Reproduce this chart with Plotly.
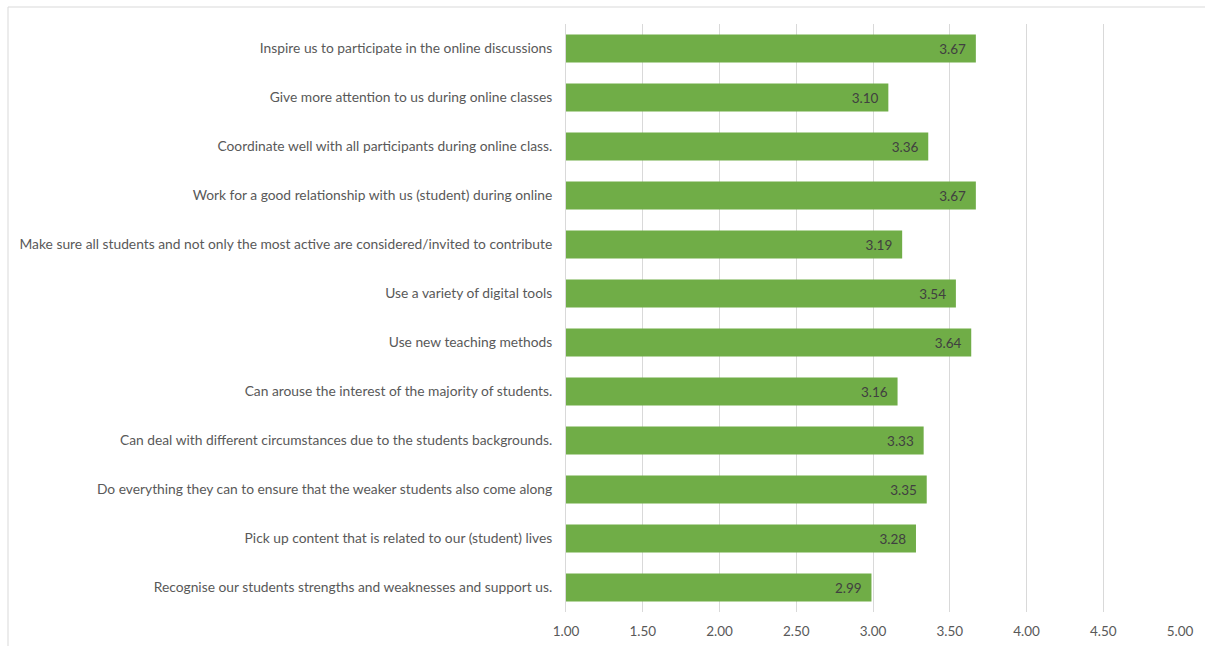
import plotly.graph_objects as go

categories = [
    "Inspire us to participate in the online discussions",
    "Give more attention to us during online classes",
    "Coordinate well with all participants during online class.",
    "Work for a good relationship with us (student) during online",
    "Make sure all students and not only the most active are considered/invited to contribute",
    "Use a variety of digital tools",
    "Use new teaching methods",
    "Can arouse the interest of the majority of students.",
    "Can deal with different circumstances due to the students backgrounds.",
    "Do everything they can to ensure that the weaker students also come along",
    "Pick up content that is related to our (student) lives",
    "Recognise our students strengths and weaknesses and support us.",
]
values = [3.67, 3.10, 3.36, 3.67, 3.19, 3.54, 3.64, 3.16, 3.33, 3.35, 3.28, 2.99]
tick_vals = [1.0, 1.5, 2.0, 2.5, 3.0, 3.5, 4.0, 4.5, 5.0]
tick_text = ["1.00", "1.50", "2.00", "2.50", "3.00", "3.50", "4.00", "4.50", "5.00"]

FONT = "Lato"

fig = go.Figure(
    go.Bar(
        x=values,
        y=categories,
        orientation="h",
        marker=dict(color="#70AD47", line=dict(width=0)),
        width=0.57,
        text=[f"{v:.2f}\u00a0\u00a0" for v in values],
        textposition="inside",
        insidetextanchor="end",
        textfont=dict(family=FONT, size=13.5, color="#404040"),
        constraintext="none",
        cliponaxis=True,
        hoverinfo="x+y",
    )
)

fig.update_layout(
    width=1205,
    height=646,
    margin=dict(l=566, r=25, t=24, b=34),
    paper_bgcolor="white",
    plot_bgcolor="white",
    showlegend=False,
    font=dict(family=FONT, size=13, color="#595959"),
    xaxis=dict(
        range=[1, 5],
        tickvals=tick_vals,
        ticktext=tick_text,
        showgrid=True,
        gridcolor="#D9D9D9",
        gridwidth=1,
        zeroline=False,
        showline=False,
        ticks="",
        automargin=False,
        ticklabelstandoff=9,
        tickfont=dict(family=FONT, size=13.5, color="#595959"),
    ),
    yaxis=dict(
        autorange="reversed",
        showgrid=False,
        zeroline=False,
        showline=True,
        linecolor="#D9D9D9",
        linewidth=1,
        ticks="",
        automargin=False,
        ticklabelstandoff=10,
        tickfont=dict(family=FONT, size=13.8, color="#595959"),
    ),
    shapes=[
        dict(
            type="rect",
            xref="paper",
            yref="paper",
            x0=(8 - 566) / 614,
            x1=1.2,
            y0=-0.2,
            y1=(612 - 7) / 588,
            line=dict(color="#D9D9D9", width=1),
            fillcolor="rgba(0,0,0,0)",
            layer="below",
        )
    ],
)

fig.write_html("out.html")
